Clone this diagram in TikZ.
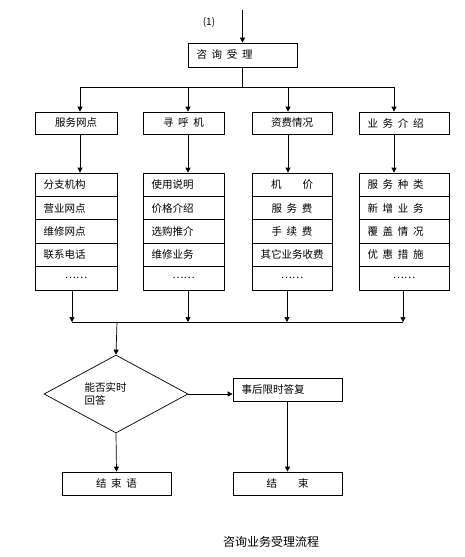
\documentclass[tikz,border=0pt]{standalone}
\usepackage{fontspec}
\newfontfamily\cjk{Noto Sans CJK SC}
\usetikzlibrary{arrows.meta,shapes.geometric}
\newcommand\kg{\hspace{0.45em}}
\begin{document}
\begin{tikzpicture}[x=1pt,y=-1pt,
  every node/.style={font=\cjk\fontsize{10.5}{13}\selectfont},
  box/.style={draw,line width=0.7pt,inner sep=0pt,minimum height=22pt},
  lrow/.style={draw,line width=0.7pt,inner ysep=0pt,minimum height=23.4pt},
  lft/.style={text width=#1,align=left,inner xsep=8.5pt},
  arr/.style={line width=0.7pt,-{Triangle[length=5pt,width=5pt]}},
  ln/.style={line width=0.7pt}]
\useasboundingbox (0,0) rectangle (465,557);
\fill[white] (0,0) rectangle (465,557);
% top
\coordinate (start) at (242.5,10);
\node[font=\cjk\fontsize{10}{12}\selectfont] (lab) at (209,22) {(1)};
\node[box,minimum height=24pt,lft=92pt] (top) at (242.5,55) {咨\kg 询\kg 受\kg 理};
\draw[arr] (start) -- (top.north);
\coordinate (h1) at (80,87);
\coordinate (h2) at (188,87);
\coordinate (h3) at (288,87);
\coordinate (h4) at (394,87);
\draw[ln] (top.south) -- (top.south |- h1);
\draw[ln] (h1) -- (h4);
% row 1
\node[box,minimum width=82pt] (b1) at (76,123) {服务网点};
\node[box,minimum width=81pt] (b2) at (183.5,123) {寻\kg 呼\kg 机};
\node[box,minimum width=80pt] (b3) at (292,123) {资费情况};
\node[box,lft=73pt] (b4) at (404,123) {业\kg 务\kg 介\kg 绍};
\draw[arr] (h1) -- (h1 |- b1.north);
\draw[arr] (h2) -- (h2 |- b2.north);
\draw[arr] (h3) -- (h3 |- b3.north);
\draw[arr] (h4) -- (h4 |- b4.north);
% list 1
\node[lrow,lft=65pt] (a1) at (76,184.7) {分支机构};
\node[lrow,lft=65pt] (a2) at (76,208.1) {营业网点};
\node[lrow,lft=65pt] (a3) at (76,231.5) {维修网点};
\node[lrow,lft=65pt] (a4) at (76,254.9) {联系电话};
\node[lrow,minimum width=82pt] (a5) at (76,278.3) {……};
% list 2
\node[lrow,lft=64pt] (c1) at (183.5,184.7) {使用说明};
\node[lrow,lft=64pt] (c2) at (183.5,208.1) {价格介绍};
\node[lrow,lft=64pt] (c3) at (183.5,231.5) {选购推介};
\node[lrow,lft=64pt] (c4) at (183.5,254.9) {维修业务};
\node[lrow,minimum width=81pt] (c5) at (183.5,278.3) {……};
% list 3
\node[lrow,minimum width=80pt] (d1) at (292,184.7) {机\hspace{2em}价};
\node[lrow,minimum width=80pt] (d2) at (292,208.1) {服\kg 务\kg 费};
\node[lrow,minimum width=80pt] (d3) at (292,231.5) {手\kg 续\kg 费};
\node[lrow,minimum width=80pt] (d4) at (292,254.9) {其它业务收费};
\node[lrow,minimum width=80pt] (d5) at (292,278.3) {……};
% list 4
\node[lrow,lft=73pt] (e1) at (404,184.7) {服\kg 务\kg 种\kg 类};
\node[lrow,lft=73pt] (e2) at (404,208.1) {新\kg 增\kg 业\kg 务};
\node[lrow,lft=73pt] (e3) at (404,231.5) {覆\kg 盖\kg 情\kg 况};
\node[lrow,lft=73pt] (e4) at (404,254.9) {优\kg 惠\kg 措\kg 施};
\node[lrow,minimum width=90pt] (e5) at (404,278.3) {……};
\draw[arr] (h1 |- b1.south) -- (h1 |- a1.north);
\draw[arr] (h2 |- b2.south) -- (h2 |- c1.north);
\draw[arr] (h3 |- b3.south) -- (h3 |- d1.north);
\draw[arr] (h4 |- b4.south) -- (h4 |- e1.north);
% bottom collector
\coordinate (g1) at (72,322);
\coordinate (g2) at (188,322);
\coordinate (g3) at (287,322);
\coordinate (g4) at (403,322);
\coordinate (gm) at (117,322);
\draw[arr] (g1 |- a5.south) -- (g1);
\draw[arr] (g2 |- c5.south) -- (g2);
\draw[arr] (g3 |- d5.south) -- (g3);
\draw[arr] (g4 |- e5.south) -- (g4);
\draw[ln] (g1) -- (g4);
% decision
\node[diamond,draw,line width=0.7pt,minimum width=144pt,minimum height=78pt,inner sep=0pt] (dec) at (116,394) {};
\node[align=left,inner sep=0pt] (dect) at (105.5,394) {能否实时\\回答};
\draw[arr] (gm) -- (dec.north);
\node[box,minimum height=23pt,lft=92pt] (r1) at (287.5,389.5) {事后限时答复};
\draw[arr] (dec.east) -- (dec.east -| r1.west);
\node[box,minimum height=23pt,minimum width=109pt] (end1) at (116.5,483.5) {结\kg 束\kg 语};
\node[box,minimum height=23pt,minimum width=109pt] (end2) at (287.5,483.5) {结\hspace{2em}束};
\draw[arr] (dec.south) -- (end1.north);
\draw[arr] (r1.south -| end2.north) -- (end2.north);
\node[font=\cjk\fontsize{12}{14}\selectfont] (title) at (271,542) {咨询业务受理流程};
\end{tikzpicture}
\end{document}
